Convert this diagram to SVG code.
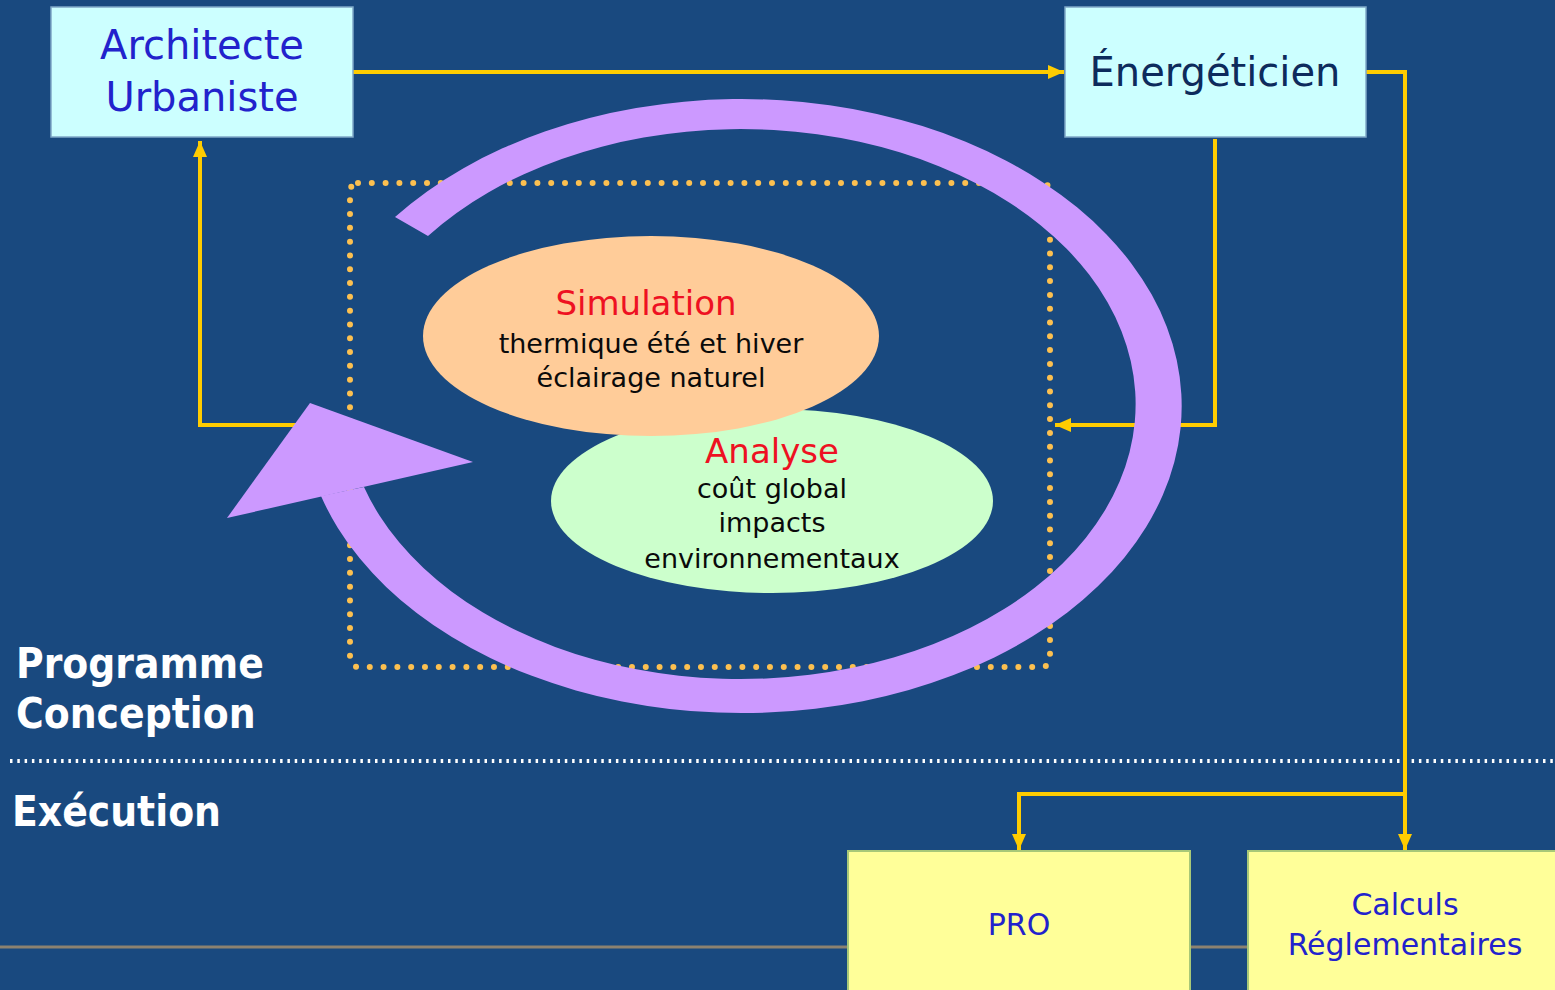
<svg xmlns="http://www.w3.org/2000/svg" width="1555" height="990" viewBox="0 0 1555 990">
<style>
.box{fill:#CCFFFF;stroke:#7FA8C8;stroke-width:1.5}
.ybox{fill:#FFFF99;stroke:#A8C878;stroke-width:2}
.conn{fill:none;stroke:#FFCC00;stroke-width:4;stroke-linejoin:miter}
.t{font-family:"DejaVu Sans","Liberation Sans",sans-serif;text-anchor:middle}
.big{font-size:40px;fill:#2222CC}
.small{font-size:27px;fill:#0A0A0A}
.red{font-size:34px;fill:#EE1122}
.lab{font-family:"DejaVu Sans Condensed","DejaVu Sans",sans-serif;font-weight:bold;font-size:42px;fill:#FFFFFF}
</style>
<defs>
<marker id="arr" markerUnits="userSpaceOnUse" markerWidth="18" markerHeight="16" refX="16" refY="7" orient="auto">
<path d="M0,0 L16,7 L0,14 z" fill="#FFCC00"/>
</marker>
</defs>
<rect x="0" y="0" width="1555" height="990" fill="#19497F"/>
<g id="frame">
<rect x="350" y="183" width="700" height="484" rx="8" fill="none" stroke="#FCC050" stroke-width="6" stroke-linecap="round" stroke-dasharray="0 13.8"/>
<line x1="10" y1="761" x2="1555" y2="761" stroke="#FFFFFF" stroke-width="4" stroke-dasharray="2.5 4.8"/>
<line x1="0" y1="947" x2="1555" y2="947" stroke="#8C8270" stroke-width="3"/>
</g>
<g id="labels">
<text class="lab" x="16" y="678">Programme</text>
<text class="lab" x="16" y="728">Conception</text>
<text class="lab" x="12" y="826">Exécution</text>
</g>
<g id="connectors">
<polyline class="conn" points="353,72 1064,72" marker-end="url(#arr)"/>
<polyline class="conn" points="300,425 200,425 200,141" marker-end="url(#arr)"/>
<polyline class="conn" points="1215,139 1215,425 1055,425" marker-end="url(#arr)"/>
<polyline class="conn" points="1366,72 1405,72 1405,850" marker-end="url(#arr)"/>
<polyline class="conn" points="1405,794 1019,794 1019,850" marker-end="url(#arr)"/>
</g>
<g id="analyse">
<ellipse cx="772" cy="501" rx="221" ry="92" fill="#CCFFCC"/>
<text class="t red" x="772" y="463">Analyse</text>
<text class="t small" x="772" y="498">coût global</text>
<text class="t small" x="772" y="532">impacts</text>
<text class="t small" x="772" y="568">environnementaux</text>
</g>
<g id="simulation">
<ellipse cx="651" cy="336" rx="228" ry="100" fill="#FFCC99"/>
<text class="t red" x="646" y="315">Simulation</text>
<text class="t small" x="651" y="353">thermique été et hiver</text>
<text class="t small" x="651" y="387">éclairage naturel</text>
</g>
<g id="cycle" fill="#CC99FF">
<path d="M395,217 A440,307 0 1 1 321,496 L364,487 A395,275 0 1 0 428,236 Z"/>
<path d="M227,518 L310,403 L473,462 Z"/>
</g>
<g id="architecte">
<rect class="box" x="51" y="7" width="302" height="130"/>
<text class="t big" x="202" y="59">Architecte</text>
<text class="t big" x="202" y="111">Urbaniste</text>
</g>
<g id="energeticien">
<rect class="box" x="1065" y="7" width="301" height="130"/>
<text class="t big" x="1215" y="86" style="fill:#0D2B5C">Énergéticien</text>
</g>
<g id="pro">
<rect class="ybox" x="848" y="851" width="342" height="145"/>
<text class="t" x="1019" y="935" style="font-size:30px;fill:#2222CC">PRO</text>
</g>
<g id="calculs">
<rect class="ybox" x="1248" y="851" width="320" height="145"/>
<text class="t" x="1405" y="915" style="font-size:30px;fill:#2222CC">Calculs</text>
<text class="t" x="1405" y="955" style="font-size:30px;fill:#2222CC">Réglementaires</text>
</g>
</svg>
